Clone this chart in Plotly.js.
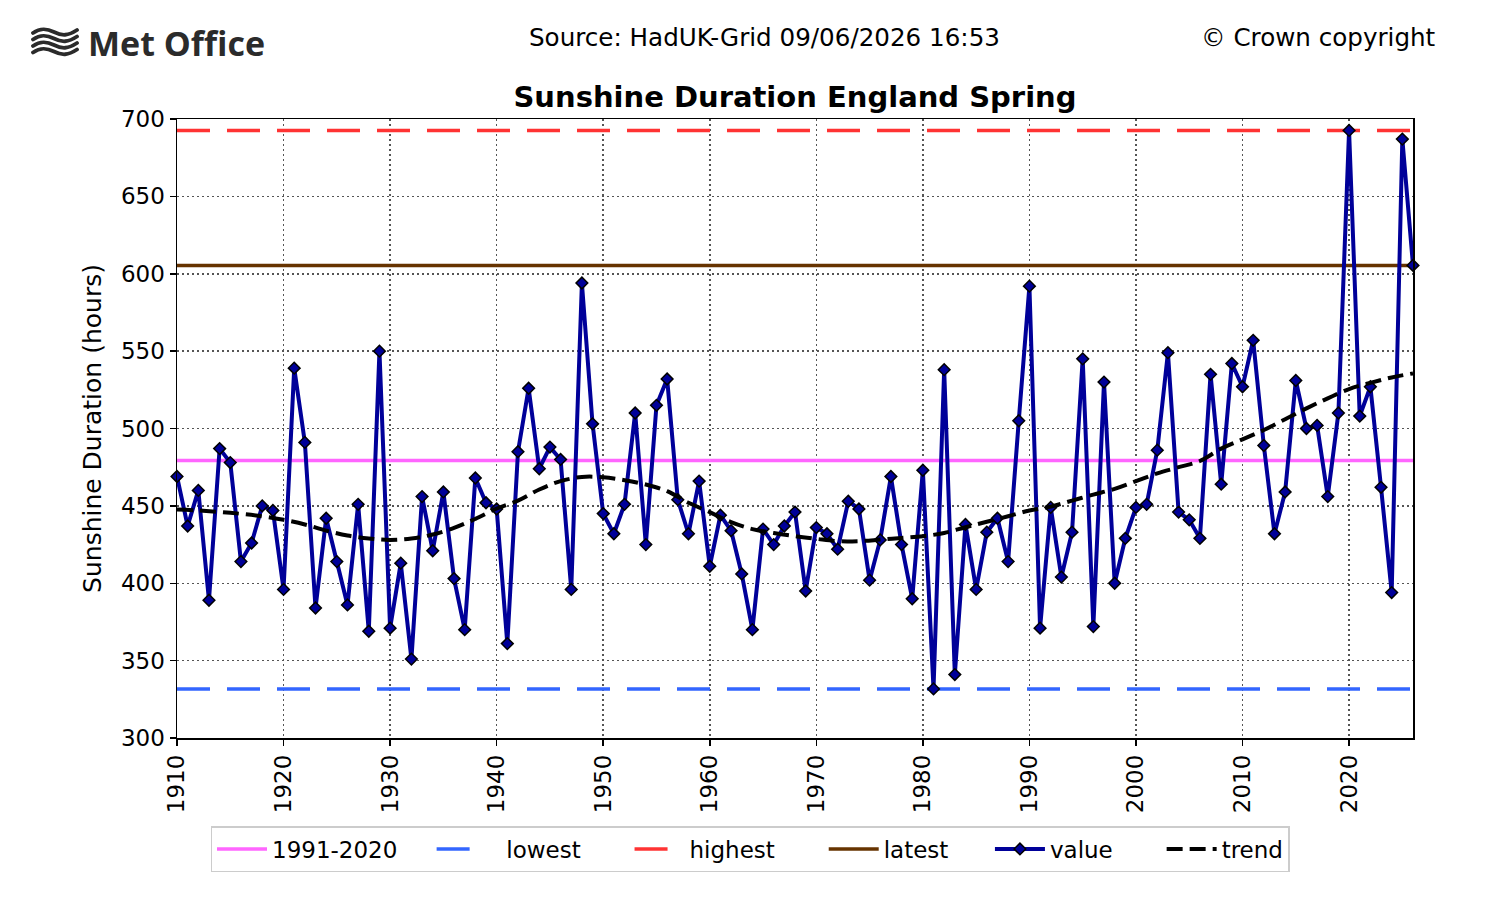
<!DOCTYPE html>
<html>
<head>
<meta charset="utf-8">
<script src="https://cdn.plot.ly/plotly-3.0.1.min.js"></script>
<style>
  html, body { margin: 0; padding: 0; background: #fff; }
  #chart { width: 1500px; height: 900px; }
</style>
</head>
<body>
<div id="chart"></div>
<script>
// spring sunshine totals (hours), England, 1910 onwards
const firstYear = 1910;
const values = [
  469, 437, 460, 389, 487, 478, 414, 426, 450, 447,
  396, 539, 491, 384, 442, 414, 386, 451, 369, 550,
  371, 413, 351, 456, 421, 459, 403, 370, 468, 452,
  448, 361, 485, 526, 474, 488, 480, 396, 594, 503,
  445, 432, 451, 510, 425, 515, 532, 454, 432, 466,
  411, 444, 434, 406, 370, 435, 425, 437, 446, 395,
  436, 432, 422, 453, 448, 402, 428, 469, 425, 390,
  473, 331.7, 538, 341, 438, 396, 433, 442, 414, 505,
  592, 371, 449, 404, 433, 545, 372, 530, 400, 429,
  449, 451, 486, 549, 446, 441, 429, 535, 464, 542,
  527, 557, 489, 432, 459, 531, 500, 502, 456, 510,
  692.6, 508, 527, 462, 394, 687, 605.4
];
const years = values.map((v, i) => firstYear + i);

// smoothed trend
const trendYears = [
  1910, 1912, 1915, 1918, 1920, 1922, 1924, 1926, 1928, 1930,
  1932, 1934, 1936, 1938, 1940, 1942, 1944, 1946, 1948, 1950,
  1952, 1954, 1956, 1958, 1960, 1962, 1964, 1966, 1968, 1970,
  1972, 1974, 1976, 1978, 1980, 1982, 1984, 1986, 1988, 1990,
  1992, 1994, 1996, 1998, 2000, 2002, 2004, 2006, 2008, 2010,
  2012, 2014, 2016, 2018, 2020, 2022, 2024, 2026
];
const trendValues = [
  447.6, 447, 445.5, 443.3, 441, 438, 434, 430.8, 428.9, 428,
  428.9, 431.5, 435.8, 441.6, 448.3, 453.4, 460.6, 466, 468.7, 468.5,
  466.6, 463.8, 459.5, 452, 446, 439.5, 435, 432.5, 430.4, 428.7,
  427.2, 427.2, 428.2, 429.3, 430.4, 432.5, 436.2, 439.7, 443.3, 447,
  449.5, 453.4, 457.3, 461, 466, 471, 475, 479, 487, 493,
  499, 506, 513, 519.5, 525.5, 529.5, 533, 535.6
];

const xRange = [1910, 2026];
const yTicks = [300, 350, 400, 450, 500, 550, 600, 650, 700];
const xTicks = [1910, 1920, 1930, 1940, 1950, 1960, 1970, 1980, 1990, 2000, 2010, 2020];

const normalYears = years.map((y, i) => (y >= 1991 && y <= 2020) ? values[i] : null).filter(v => v !== null);
const average = normalYears.reduce((a, b) => a + b, 0) / normalYears.length;
const lowest = Math.min(...values);
const highest = Math.max(...values);
const latest = values[values.length - 1];

const FONT = "DejaVu Sans, Liberation Sans, sans-serif";
const NB = "\u00a0";  // padding so legend entries spread like the original

function hline(name, val, color, dash) {
  return {
    name: name,
    x: xRange,
    y: [val, val],
    type: "scatter",
    mode: "lines",
    line: { color: color, width: 3.5, dash: dash },
    hoverinfo: "skip",
  };
}

let traces = [
  hline("1991-2020" + NB.repeat(4), average, "#ff66ff", "solid"),
  hline(NB.repeat(2) + "lowest" + NB.repeat(6), lowest, "#3366ff", "33px,17px"),
  hline("highest" + NB.repeat(6), highest, "#ff3333", "33px,17px"),
  hline("latest" + NB.repeat(5), latest, "#663300", "solid"),
  {
    name: "value" + NB.repeat(6),
    x: years,
    y: values,
    type: "scatter",
    mode: "lines+markers",
    line: { color: "#000099", width: 4 },
    marker: { symbol: "diamond", size: 9, color: "#000099", line: { color: "#000000", width: 1.5 } },
    cliponaxis: false,
  },
  {
    name: "trend",
    x: trendYears,
    y: trendValues,
    type: "scatter",
    mode: "lines",
    line: { color: "#000000", width: 4, dash: "16px,7px", shape: "spline" },
  },
];

const waves = '<svg xmlns="http://www.w3.org/2000/svg" viewBox="0 0 48 30">' +
  '<g fill="none" stroke="#2b2b2b" stroke-width="3.8" stroke-linecap="round">' +
  '<path d="M2,6 C9,1 15,1 23,5 S37,9 46,3"/>' +
  '<path d="M2,12.5 C9,7.5 15,7.5 23,11.5 S37,15.5 46,9.5"/>' +
  '<path d="M2,19 C9,14 15,14 23,18 S37,22 46,16"/>' +
  '<path d="M2,25.5 C9,20.5 15,20.5 23,24.5 S37,28.5 46,22.5"/>' +
  '</g></svg>';

// plot area is 177..1413 px across, 119..738 px down
const px = (x) => (x - 177) / 1236;
const py = (y) => (738 - y) / 619;

let layout = {
  width: 1500,
  height: 900,
  margin: { l: 177, r: 87, t: 119, b: 162, pad: 0 },
  paper_bgcolor: "#ffffff",
  plot_bgcolor: "#ffffff",
  font: { family: FONT, size: 23, color: "#000000" },
  title: {
    text: "Sunshine Duration England Spring",
    font: { family: FONT, size: 29, weight: 700, color: "#000000" },
    xref: "paper",
    x: 0.5,
    xanchor: "center",
    yref: "container",
    y: 1 - 97 / 900,
    yanchor: "middle",
  },
  xaxis: {
    range: xRange,
    tickvals: xTicks,
    tickangle: -90,
    ticks: "outside",
    ticklen: 6,
    tickwidth: 1.5,
    tickcolor: "#000",
    showline: true,
    mirror: true,
    linecolor: "#000",
    linewidth: 1.5,
    showgrid: true,
    gridcolor: "#555",
    gridwidth: 1.5,
    griddash: "2px,3px",
    zeroline: false,
    tickfont: { size: 23 },
  },
  yaxis: {
    range: [300, 700],
    tickvals: yTicks,
    ticks: "outside",
    ticklen: 6,
    tickwidth: 1.5,
    tickcolor: "#000",
    showline: true,
    mirror: true,
    linecolor: "#000",
    linewidth: 1.5,
    showgrid: true,
    gridcolor: "#555",
    gridwidth: 1.5,
    griddash: "2px,3px",
    zeroline: false,
    tickfont: { size: 23 },
    title: { text: "Sunshine Duration (hours)", font: { size: 25 }, standoff: 12 },
  },
  showlegend: true,
  legend: {
    orientation: "h",
    xref: "container",
    x: 0.5,
    xanchor: "center",
    yref: "container",
    y: 1 - 826 / 900,
    yanchor: "top",
    bordercolor: "#cccccc",
    borderwidth: 1.5,
    font: { size: 23 },
    itemwidth: 50,
    traceorder: "normal",
  },
  annotations: [
    {
      text: "Source: HadUK-Grid 09/06/2026 16:53",
      xref: "paper", yref: "paper",
      x: px(764), y: py(37),
      xanchor: "center", yanchor: "middle",
      showarrow: false,
      font: { size: 24.6 },
    },
    {
      text: "© Crown copyright",
      xref: "paper", yref: "paper",
      x: px(1438), y: py(37),
      xanchor: "right", yanchor: "middle",
      showarrow: false,
      font: { size: 24.6 },
    },
    {
      text: "Met Office",
      xref: "paper", yref: "paper",
      x: px(86), y: py(43),
      xanchor: "left", yanchor: "middle",
      showarrow: false,
      font: { family: "Open Sans, Noto Sans, sans-serif", size: 34, weight: 700, color: "#2b2b2b" },
    },
  ],
  images: [
    {
      source: "data:image/svg+xml;charset=utf-8," + encodeURIComponent(waves),
      xref: "paper", yref: "paper",
      x: px(31), y: py(27),
      sizex: 48 / 1236, sizey: 30 / 619,
      xanchor: "left", yanchor: "top",
      sizing: "stretch",
      layer: "above",
    },
  ],
};

let config = { responsive: false, displayModeBar: false, staticPlot: true };

Plotly.newPlot("chart", traces, layout, config);
</script>
</body>
</html>
